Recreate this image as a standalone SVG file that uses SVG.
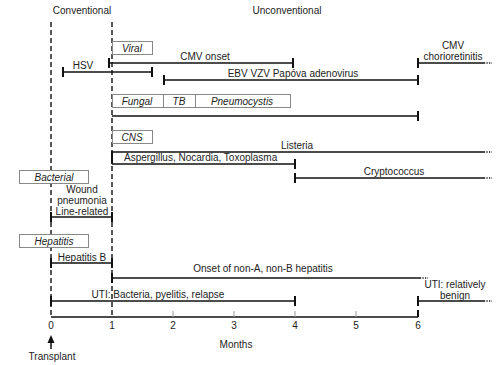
<svg xmlns="http://www.w3.org/2000/svg" width="500" height="365" viewBox="0 0 500 365">
<style>
text{font-family:"Liberation Sans",Arial,sans-serif;font-size:10px;fill:#222}
.i{font-style:italic}
.m{text-anchor:middle}
.box{fill:#fff;stroke:#888;stroke-width:1}
.ln{stroke:#111;stroke-width:1.6;fill:none}
.tk{stroke:#111;stroke-width:2;fill:none}
.dot{stroke:#111;stroke-width:1.6;stroke-dasharray:1.2,1.3;fill:none}
.dash{stroke:#111;stroke-width:1.4;stroke-dasharray:5,3;fill:none}
.gt{stroke:#999;stroke-width:1;fill:none}
</style>
<rect width="500" height="365" fill="#fff"/>
<g id="headers">
<text x="82" y="14" class="m">Conventional</text>
<text x="287" y="14" class="m">Unconventional</text>
</g>
<g id="guides">
<line x1="51" y1="22" x2="51" y2="317" class="dash"/>
<line x1="112" y1="22" x2="112" y2="317" class="dash"/>
</g>
<g id="viral">
<rect x="112.5" y="41.5" width="40" height="13" class="box"/>
<text x="132" y="51.5" class="m i">Viral</text>
</g>
<g id="fungal">
<rect x="112.5" y="94.5" width="178" height="13" class="box"/>
<line x1="163.5" y1="94.5" x2="163.5" y2="107.5" stroke="#888"/>
<line x1="195.5" y1="94.5" x2="195.5" y2="107.5" stroke="#888"/>
<text x="137" y="104.5" class="m i">Fungal</text>
<text x="179" y="104.5" class="m i">TB</text>
<text x="242" y="104.5" class="m i">Pneumocystis</text>
</g>
<g id="cns">
<rect x="112.5" y="130.5" width="40" height="13" class="box"/>
<text x="132" y="140.5" class="m i">CNS</text>
</g>
<g id="bacterial">
<rect x="19.5" y="170.5" width="69" height="13" class="box"/>
<text x="54" y="180.5" class="m i">Bacterial</text>
</g>
<g id="hepatitis">
<rect x="19.5" y="234.5" width="69" height="13" class="box"/>
<text x="54" y="244.5" class="m i">Hepatitis</text>
</g>
<g id="connectors">
<!-- CMV onset -->
<line x1="109" y1="63" x2="293" y2="63" class="ln"/>
<line x1="109" y1="58" x2="109" y2="68" class="tk"/>
<line x1="293" y1="58" x2="293" y2="68" class="tk"/>
<!-- HSV -->
<line x1="63" y1="72" x2="152" y2="72" class="ln"/>
<line x1="63" y1="67" x2="63" y2="77" class="tk"/>
<line x1="152" y1="67" x2="152" y2="77" class="tk"/>
<!-- EBV -->
<line x1="164" y1="80" x2="418" y2="80" class="ln"/>
<line x1="164" y1="75" x2="164" y2="85" class="tk"/>
<line x1="418" y1="75" x2="418" y2="85" class="tk"/>
<!-- CMV chorioretinitis -->
<line x1="418" y1="63" x2="484" y2="63" class="ln"/>
<line x1="418" y1="58" x2="418" y2="68" class="tk"/>
<line x1="484" y1="63" x2="492" y2="63" class="dot"/>
<!-- fungal line -->
<line x1="112" y1="116" x2="418" y2="116" class="ln"/>
<line x1="418" y1="111" x2="418" y2="121" class="tk"/>
<!-- Listeria -->
<line x1="112" y1="152" x2="484" y2="152" class="ln"/>
<line x1="484" y1="152" x2="492" y2="152" class="dot"/>
<!-- Aspergillus -->
<line x1="112" y1="164" x2="295" y2="164" class="ln"/>
<line x1="112" y1="151" x2="112" y2="164" class="tk"/>
<line x1="295" y1="159" x2="295" y2="169" class="tk"/>
<!-- Cryptococcus -->
<line x1="295" y1="178" x2="484" y2="178" class="ln"/>
<line x1="295" y1="173" x2="295" y2="183" class="tk"/>
<line x1="484" y1="178" x2="492" y2="178" class="dot"/>
<!-- Wound -->
<line x1="51" y1="217" x2="112" y2="217" class="ln"/>
<line x1="51" y1="212" x2="51" y2="222" class="tk"/>
<line x1="112" y1="212" x2="112" y2="222" class="tk"/>
<!-- Hepatitis B -->
<line x1="51" y1="263" x2="112" y2="263" class="ln"/>
<line x1="51" y1="258" x2="51" y2="268" class="tk"/>
<line x1="112" y1="258" x2="112" y2="268" class="tk"/>
<!-- non-A non-B -->
<line x1="112" y1="278" x2="420" y2="278" class="ln"/>
<line x1="112" y1="273" x2="112" y2="283" class="tk"/>
<line x1="420" y1="278" x2="428" y2="278" class="dot"/>
<!-- UTI -->
<line x1="51" y1="301" x2="295" y2="301" class="ln"/>
<line x1="51" y1="296" x2="51" y2="306" class="tk"/>
<line x1="295" y1="296" x2="295" y2="306" class="tk"/>
<!-- UTI benign -->
<line x1="418" y1="301" x2="484" y2="301" class="ln"/>
<line x1="418" y1="296" x2="418" y2="306" class="tk"/>
<line x1="484" y1="301" x2="492" y2="301" class="dot"/>
</g>
<g id="labels">
<text x="83" y="69" class="m">HSV</text>
<text x="205" y="60" class="m">CMV onset</text>
<text x="293" y="77" class="m">EBV VZV Papóva adenovirus</text>
<text x="453" y="49" class="m">CMV</text>
<text x="453" y="60" class="m">chorioretinitis</text>
<text x="297" y="149" class="m">Listeria</text>
<text x="124" y="161">Aspergillus, Nocardia, Toxoplasma</text>
<text x="394" y="175" class="m">Cryptococcus</text>
<text x="82" y="193" class="m">Wound</text>
<text x="82" y="204" class="m">pneumonia</text>
<text x="82" y="215" class="m">Line-related</text>
<text x="82" y="261" class="m">Hepatitis B</text>
<text x="263" y="272" class="m">Onset of non-A, non-B hepatitis</text>
<text x="158" y="298" class="m">UTI: Bacteria, pyelitis, relapse</text>
<text x="455" y="288" class="m">UTI: relatively</text>
<text x="455" y="299" class="m">benign</text>
</g>
<g id="axis">
<line x1="51" y1="317" x2="418" y2="317" class="ln"/>
<line x1="173" y1="311" x2="173" y2="317" class="gt"/>
<line x1="234" y1="311" x2="234" y2="317" class="gt"/>
<line x1="295" y1="311" x2="295" y2="317" class="gt"/>
<line x1="356" y1="311" x2="356" y2="317" class="gt"/>
<line x1="418" y1="310" x2="418" y2="317" class="tk"/>
<text x="51" y="329" class="m">0</text>
<text x="112" y="329" class="m">1</text>
<text x="173" y="329" class="m">2</text>
<text x="234" y="329" class="m">3</text>
<text x="295" y="329" class="m">4</text>
<text x="356" y="329" class="m">5</text>
<text x="418" y="329" class="m">6</text>
<text x="236" y="348" class="m">Months</text>
</g>
<g id="transplant">
<line x1="51" y1="341" x2="51" y2="349" stroke="#111" stroke-width="1.5"/>
<polygon points="51,335 47.5,343 54.5,343" fill="#111"/>
<text x="52" y="360" class="m">Transplant</text>
</g>
</svg>
